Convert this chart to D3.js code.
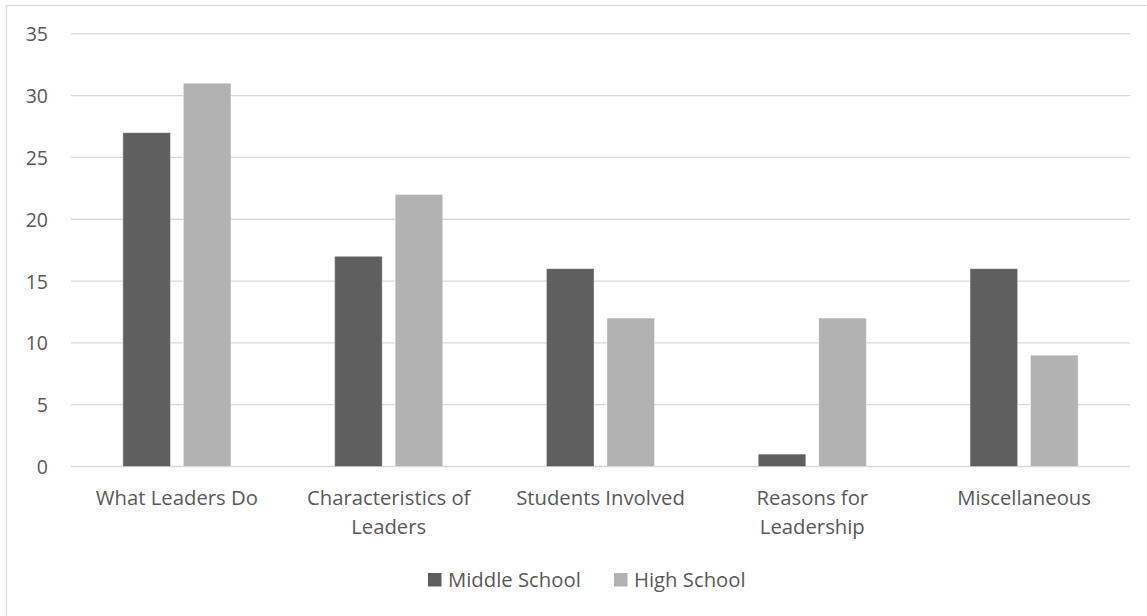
<!DOCTYPE html>
<html>
<head>
<meta charset="utf-8">
<script src="https://cdn.jsdelivr.net/npm/d3@7"></script>
<style>
  html, body { margin: 0; padding: 0; background: #fff; }
  svg { display: block; }
  text { font-family: "Open Sans", "Noto Sans", sans-serif; fill: #595959; }
</style>
</head>
<body>
<svg id="chart" width="1147" height="616"></svg>
<script>
// Category labels (line breaks as wrapped on the axis)
const categories = [
  ["What Leaders Do"],
  ["Characteristics of", "Leaders"],
  ["Students Involved"],
  ["Reasons for", "Leadership"],
  ["Miscellaneous"]
];
const seriesNames = ["Middle School", "High School"];
const middleSchool = [27, 17, 16, 1, 16];
const highSchool = [31, 22, 12, 12, 9];
const yTicks = [0, 5, 10, 15, 20, 25, 30, 35];
const colors = ["#5f5f5f", "#b2b2b2"];

const svg = d3.select("#chart");
const W = 1147, H = 616;
const plot = { left: 71, right: 1130, top: 33.8, bottom: 466.5 };
const labelSize = 20.3;

// Outer chart frame
svg.append("rect")
  .attr("x", 6.5).attr("y", 5.5)
  .attr("width", W + 10).attr("height", H + 10)
  .attr("fill", "#fff").attr("stroke", "#d9d9d9").attr("stroke-width", 1.3);

const catKeys = categories.map((c, i) => i);
const x0 = d3.scaleBand().domain(catKeys).range([plot.left, plot.right]).padding(0);
const x1 = d3.scaleBand().domain([0, 1]).range([0, x0.bandwidth()])
  .paddingInner(0.215).paddingOuter(0.857);
const y = d3.scaleLinear().domain([0, 35]).range([plot.bottom, plot.top]);

// Gridlines
svg.append("g")
  .selectAll("line").data(yTicks).join("line")
  .attr("x1", plot.left).attr("x2", plot.right)
  .attr("y1", d => y(d)).attr("y2", d => y(d))
  .attr("stroke", "#d9d9d9").attr("stroke-width", 1.3);

// Y axis labels
const yAxis = d3.axisLeft(y).tickValues(yTicks).tickSize(0).tickPadding(0);
const gy = svg.append("g").attr("transform", "translate(48,0)").call(yAxis);
gy.select(".domain").remove();
gy.selectAll("text")
  .style("font-family", "'Open Sans', sans-serif")
  .attr("font-size", 19.5).attr("fill", "#595959").attr("dy", "0.36em");

// Bars
const data = catKeys.map(i => [middleSchool[i], highSchool[i]]);
const groups = svg.append("g").selectAll("g").data(data).join("g")
  .attr("transform", (d, i) => `translate(${x0(i)},0)`);
groups.selectAll("rect").data(d => d.map((v, s) => ({ v, s }))).join("rect")
  .attr("x", d => x1(d.s))
  .attr("width", x1.bandwidth())
  .attr("y", d => y(d.v))
  .attr("height", d => y(0) - y(d.v))
  .attr("fill", d => colors[d.s])
  .attr("stroke", "#ffffff").attr("stroke-opacity", 0.35).attr("stroke-width", 1);

// Category labels, one text element per wrapped line
const xl = svg.append("g");
categories.forEach((lines, i) => {
  lines.forEach((ln, k) => {
    xl.append("text")
      .attr("x", x0(i) + x0.bandwidth() / 2)
      .attr("y", 505 + k * 28.5)
      .attr("text-anchor", "middle")
      .attr("font-size", labelSize)
      .text(ln);
  });
});

// Legend
const legend = svg.append("g");
const legendItems = [
  { name: seriesNames[0], color: colors[0], x: 428 },
  { name: seriesNames[1], color: colors[1], x: 614 }
];
legendItems.forEach(it => {
  legend.append("rect").attr("x", it.x).attr("y", 573)
    .attr("width", 13.5).attr("height", 13.5).attr("fill", it.color);
  legend.append("text").attr("x", it.x + 20).attr("y", 587)
    .attr("font-size", labelSize).text(it.name);
});
</script>
</body>
</html>
